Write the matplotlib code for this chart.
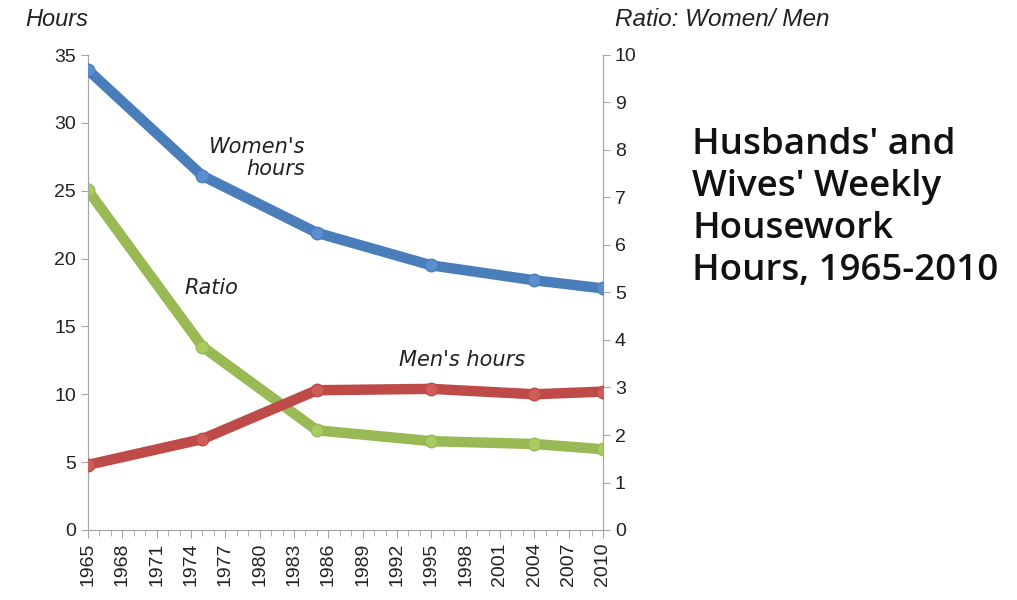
import matplotlib

matplotlib.use("Agg")
import matplotlib.pyplot as plt
from matplotlib.ticker import MultipleLocator

years = [1965, 1975, 1985, 1995, 2004, 2010]
women_hours = [33.9, 26.1, 21.9, 19.5, 18.4, 17.8]
men_hours = [4.8, 6.7, 10.3, 10.4, 10.0, 10.2]
ratio = [7.15, 3.86, 2.1, 1.87, 1.81, 1.7]

BLUE = "#4a7ebb"
RED = "#be4b48"
GREEN = "#98b954"
AXIS_GRAY = "#a6a6a6"

plt.rcParams["font.family"] = ["Liberation Sans", "DejaVu Sans"]

fig = plt.figure(figsize=(10.17, 6.0), dpi=100)
ax = fig.add_axes([88 / 1017, 70 / 600, 515 / 1017, 475 / 600])
ax2 = ax.twinx()

line_kw = dict(lw=7.5, marker="o", ms=9, solid_joinstyle="round", zorder=3)
ax.plot(years, women_hours, color=BLUE, mfc="#5b8fd0", mec=BLUE, **line_kw)
ax.plot(years, men_hours, color=RED, mfc="#d05c58", mec=RED, **line_kw)
ax2.plot(years, ratio, color=GREEN, mfc="#a8cc62", mec=GREEN, **line_kw)

ax.set_xlim(1965, 2010)
ax.set_ylim(0, 35)
ax2.set_ylim(0, 10)
ax.set_yticks(range(0, 36, 5))
ax2.set_yticks(range(0, 11, 1))
ax.set_xticks(range(1965, 2011, 3))
ax.xaxis.set_minor_locator(MultipleLocator(1))
ax.set_xticklabels([str(y) for y in range(1965, 2011, 3)], rotation=90)

for a in (ax, ax2):
    a.spines["top"].set_visible(False)
    for s in ("left", "right", "bottom"):
        a.spines[s].set_color(AXIS_GRAY)
    a.tick_params(axis="both", which="both", colors=AXIS_GRAY, labelcolor="#222222",
                  labelsize=14, length=5)
ax.tick_params(axis="x", which="minor", length=4)
ax.tick_params(axis="x", which="major", length=6, pad=3)
ax.set_zorder(ax2.get_zorder() + 1)
ax.patch.set_visible(False)

note_kw = dict(style="italic", fontsize=15, color="#222222", family=["DejaVu Sans"])
ax.text(1984, 27.4, "Women's\nhours", ha="right", va="center", linespacing=1.1, **note_kw)
ax.text(1975.8, 17.8, "Ratio", ha="center", va="center", **note_kw)
ax.text(1997.7, 12.5, "Men's hours", ha="center", va="center", **note_kw)

fig.text(25 / 1017, 1 - 20 / 600, "Hours", ha="left", va="center", style="italic",
         fontsize=17, color="#222222")
fig.text(615 / 1017, 1 - 20 / 600, "Ratio: Women/ Men", ha="left", va="center",
         style="italic", fontsize=17.5, color="#222222")

fig.text(692 / 1017, 1 - 208 / 600, "Husbands' and\nWives' Weekly\nHousework\nHours, 1965-2010",
         ha="left", va="center", fontsize=26.5, fontweight="semibold", color="#111111",
         family=["Open Sans", "DejaVu Sans"], linespacing=1.22)

fig.savefig("out.png", dpi=100)
